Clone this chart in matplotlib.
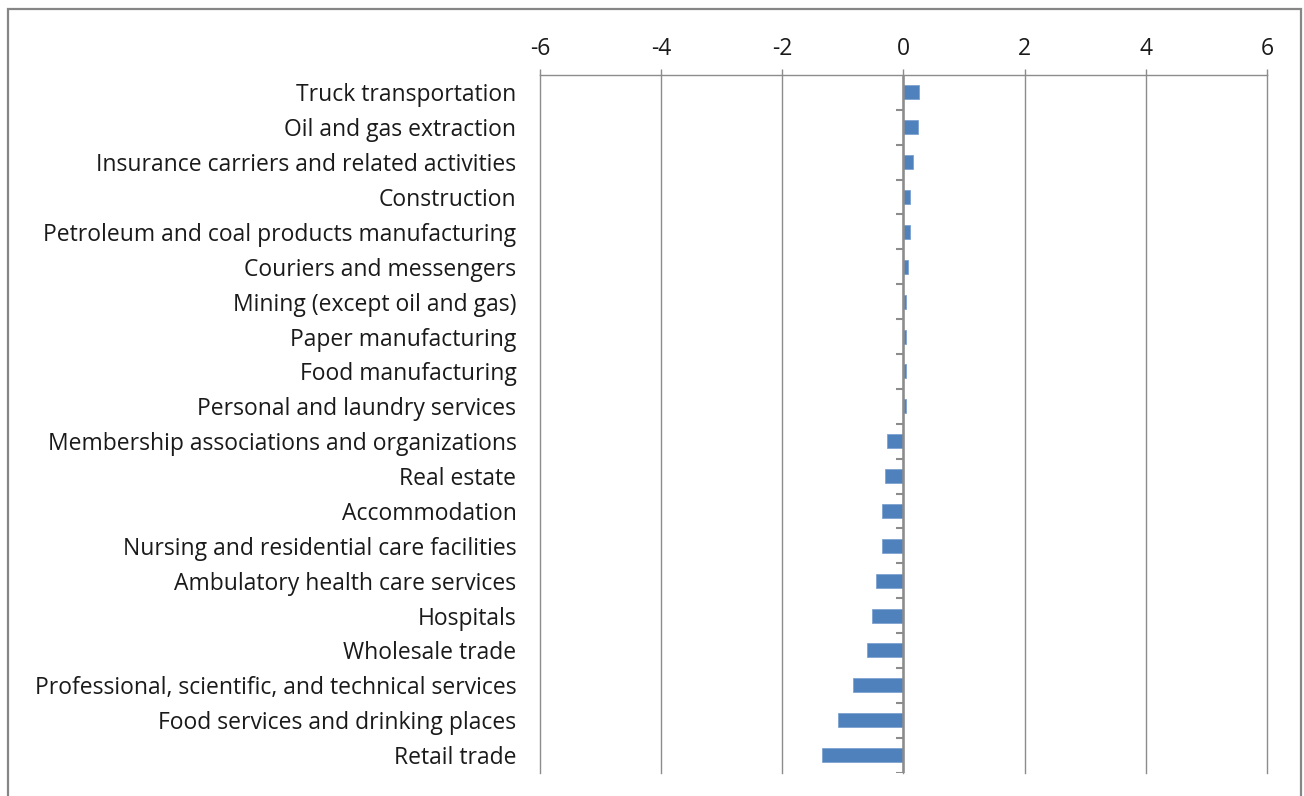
import numpy as np
import matplotlib
matplotlib.use('Agg')
import matplotlib.pyplot as plt
from matplotlib.patches import Rectangle

industries = [
    "Truck transportation",
    "Oil and gas extraction",
    "Insurance carriers and related activities",
    "Construction",
    "Petroleum and coal products manufacturing",
    "Couriers and messengers",
    "Mining (except oil and gas)",
    "Paper manufacturing",
    "Food manufacturing",
    "Personal and laundry services",
    "Membership associations and organizations",
    "Real estate",
    "Accommodation",
    "Nursing and residential care facilities",
    "Ambulatory health care services",
    "Hospitals",
    "Wholesale trade",
    "Professional, scientific, and technical services",
    "Food services and drinking places",
    "Retail trade",
]
change = [0.26, 0.24, 0.16, 0.10, 0.10, 0.08, 0.04, 0.04, 0.04, 0.04,
          -0.28, -0.30, -0.35, -0.35, -0.45, -0.52, -0.60, -0.83, -1.08, -1.34]
xticks = [-6, -4, -2, 0, 2, 4, 6]

plt.rcParams['font.family'] = ['Open Sans', 'DejaVu Sans']
gray = '#8c8c8c'

fig = plt.figure(figsize=(13.04, 7.96), dpi=100)
ax = fig.add_axes([0.4141, 0.0295, 0.5575, 0.8763])

y = np.arange(len(industries))
ax.barh(y, change, height=0.4, color='#4f81bd', edgecolor='#7da2d0',
        linewidth=0.6, zorder=3)

ax.set_xlim(-6, 6)
ax.set_ylim(len(industries) - 0.5, -0.5)

# value axis on top, with light vertical gridlines
ax.xaxis.tick_top()
ax.set_xticks(xticks)
ax.set_xticklabels([str(t) for t in xticks], fontsize=16.5, color='#1a1a1a')
ax.tick_params(axis='x', direction='out', length=4, width=1, color=gray, pad=6)
ax.grid(axis='x', color=gray, linewidth=1, zorder=0)
for gl in ax.get_xgridlines():
    gl.set_clip_on(False)

# category labels on the far left, axis line drawn through zero
ax.set_yticks(y)
ax.set_yticklabels(industries, fontsize=16.5, color='#1a1a1a')
ax.tick_params(axis='y', length=0, pad=17)
for side in ['left', 'right', 'bottom']:
    ax.spines[side].set_visible(False)
ax.spines['top'].set_color(gray)
ax.spines['top'].set_linewidth(1)

ax.axvline(0, color=gray, linewidth=1.8, zorder=4)
bounds = np.arange(len(industries) + 1) - 0.5
ax.hlines(bounds[1:], -0.13, 0, color=gray, linewidth=1.5, zorder=4)

# chart area border
fig.patches.append(Rectangle((8 / 1304, -0.05), 1293 / 1304, 1.05 - 9 / 796,
                             transform=fig.transFigure, fill=False,
                             edgecolor='#868686', linewidth=1.6))

plt.savefig('out.png', dpi=100)
